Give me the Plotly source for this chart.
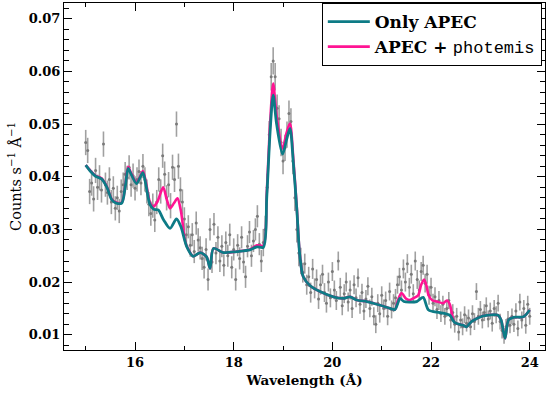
import numpy as np
import plotly.graph_objects as go

# ---- observed spectrum (bin centres 15.00 ... 24.00 A, 0.04 A bins) ----
WAVE_START = 15.00
WAVE_STEP = 0.04
FLUX = [
    0.0465, 0.0450, 0.0372, 0.0388, 0.0358, 0.0412, 0.0380, 0.0398, 0.0375, 0.0462,
    0.0385, 0.0370, 0.0395, 0.0352, 0.0378, 0.0340, 0.0360, 0.0335, 0.0372, 0.0385,
    0.0405, 0.0398, 0.0418, 0.0385, 0.0402, 0.0378, 0.0395, 0.0410, 0.0388, 0.0420,
    0.0395, 0.0372, 0.0348, 0.0330, 0.0345, 0.0318, 0.0352, 0.0395, 0.0372, 0.0440,
    0.0405, 0.0360, 0.0385, 0.0345, 0.0418, 0.0395, 0.0500, 0.0420, 0.0375, 0.0352,
    0.0320, 0.0290, 0.0305, 0.0270, 0.0290, 0.0258, 0.0312, 0.0280, 0.0265, 0.0245,
    0.0228, 0.0262, 0.0205, 0.0300, 0.0238, 0.0310, 0.0255, 0.0285, 0.0240, 0.0268,
    0.0232, 0.0275, 0.0250, 0.0290, 0.0228, 0.0262, 0.0205, 0.0270, 0.0245, 0.0285,
    0.0238, 0.0210, 0.0268, 0.0295, 0.0250, 0.0278, 0.0300, 0.0325, 0.0272, 0.0240,
    0.0275, 0.0300, 0.0380, 0.0480, 0.0590, 0.0620, 0.0590, 0.0530, 0.0510, 0.0465,
    0.0430, 0.0455, 0.0480, 0.0520, 0.0505, 0.0430, 0.0360, 0.0300, 0.0255, 0.0240,
    0.0218, 0.0235, 0.0195, 0.0210, 0.0180, 0.0225, 0.0188, 0.0205, 0.0168, 0.0195,
    0.0215, 0.0180, 0.0160, 0.0200, 0.0170, 0.0220, 0.0185, 0.0165, 0.0240, 0.0190,
    0.0155, 0.0178, 0.0200, 0.0162, 0.0185, 0.0150, 0.0195, 0.0170, 0.0208, 0.0158,
    0.0180, 0.0145, 0.0168, 0.0192, 0.0150, 0.0172, 0.0135, 0.0120, 0.0160, 0.0140,
    0.0175, 0.0150, 0.0165, 0.0135, 0.0182, 0.0148, 0.0160, 0.0170, 0.0195, 0.0210,
    0.0185, 0.0225, 0.0200, 0.0235, 0.0190, 0.0215, 0.0178, 0.0240, 0.0205, 0.0185,
    0.0220, 0.0232, 0.0198, 0.0215, 0.0175, 0.0190, 0.0160, 0.0172, 0.0148, 0.0165,
    0.0140, 0.0158, 0.0135, 0.0150, 0.0165, 0.0128, 0.0142, 0.0120, 0.0135, 0.0105,
    0.0128, 0.0115, 0.0138, 0.0122, 0.0132, 0.0115, 0.0140, 0.0125, 0.0182, 0.0135,
    0.0148, 0.0128, 0.0142, 0.0155, 0.0130, 0.0145, 0.0122, 0.0150, 0.0138, 0.0160,
    0.0125, 0.0108, 0.0098, 0.0115, 0.0130, 0.0118, 0.0135, 0.0120, 0.0145, 0.0112,
    0.0162, 0.0128, 0.0150, 0.0118, 0.0158, 0.0135,
]
# error half-length per 0.4 A group of ten bins
ERR_GROUPS = [0.0024, 0.0023, 0.0023, 0.0023, 0.0024, 0.0022, 0.0021, 0.0021,
              0.0021, 0.0026, 0.0025, 0.0019, 0.0018, 0.0018, 0.0017, 0.0017,
              0.0018, 0.0018, 0.0016, 0.0016, 0.0016, 0.0015, 0.0016]

# ---- model: Only APEC ----
APEC_X = [15.00, 15.10, 15.20, 15.32, 15.43, 15.53, 15.62, 15.73, 15.80, 15.86,
          15.92, 16.03, 16.10, 16.16, 16.22, 16.30, 16.38, 16.47, 16.58, 16.71,
          16.84, 16.93, 17.05, 17.18, 17.32, 17.45, 17.52, 17.59, 17.79, 18.06,
          18.33, 18.47, 18.60, 18.67, 18.74, 18.80, 18.87, 18.99, 19.07, 19.14,
          19.21, 19.28, 19.34, 19.41, 19.55, 19.75, 20.02, 20.22, 20.36, 20.49,
          20.70, 20.97, 21.17, 21.27, 21.32, 21.37, 21.45, 21.57, 21.71, 21.84,
          21.95, 22.18, 22.38, 22.48, 22.65, 22.72, 22.82, 22.93, 23.06, 23.36,
          23.42, 23.50, 23.57, 23.67, 23.87, 24.00]
APEC_Y = [0.0422, 0.0410, 0.0401, 0.0396, 0.0380, 0.0356, 0.0350, 0.0350, 0.0380, 0.0416,
          0.0405, 0.0387, 0.0398, 0.0408, 0.0385, 0.0348, 0.0338, 0.0337, 0.0318, 0.0302,
          0.0320, 0.0305, 0.0267, 0.0249, 0.0256, 0.0248, 0.0226, 0.0264, 0.0256, 0.0258,
          0.0261, 0.0267, 0.0266, 0.0362, 0.0489, 0.0555, 0.0500, 0.0443, 0.0470, 0.0492,
          0.0425, 0.0337, 0.0250, 0.0210, 0.0193, 0.0182, 0.0172, 0.0169, 0.0172, 0.0166,
          0.0163, 0.0156, 0.0150, 0.0148, 0.0158, 0.0169, 0.0163, 0.0162, 0.0163, 0.0171,
          0.0147, 0.0142, 0.0137, 0.0123, 0.0118, 0.0115, 0.0125, 0.0131, 0.0136, 0.0137,
          0.0128, 0.0093, 0.0128, 0.0133, 0.0134, 0.0147]

# ---- model: APEC + photemis ----
PHOT_X = [15.00, 15.10, 15.20, 15.32, 15.43, 15.53, 15.62, 15.73, 15.80, 15.86,
          15.92, 16.03, 16.10, 16.16, 16.22, 16.30, 16.37, 16.45, 16.57, 16.64,
          16.71, 16.79, 16.86, 16.93, 17.01, 17.05, 17.18, 17.32, 17.45, 17.52,
          17.59, 17.79, 18.06, 18.33, 18.47, 18.60, 18.67, 18.74, 18.80, 18.87,
          18.99, 19.07, 19.14, 19.21, 19.28, 19.34, 19.41, 19.55, 19.75, 20.02,
          20.22, 20.36, 20.49, 20.70, 20.97, 21.17, 21.27, 21.33, 21.40, 21.50,
          21.57, 21.66, 21.74, 21.80, 21.86, 21.91, 21.95, 22.03, 22.12, 22.25,
          22.32, 22.38, 22.42, 22.48, 22.65, 22.72, 22.82, 22.93, 23.06, 23.36,
          23.42, 23.50, 23.57, 23.67, 23.87, 24.00]
PHOT_Y = [0.0422, 0.0411, 0.0402, 0.0397, 0.0381, 0.0357, 0.0351, 0.0351, 0.0382, 0.0419,
          0.0407, 0.0389, 0.0400, 0.0411, 0.0390, 0.0352, 0.0343, 0.0352, 0.0380, 0.0358,
          0.0340, 0.0350, 0.0359, 0.0335, 0.0280, 0.0268, 0.0249, 0.0256, 0.0248, 0.0226,
          0.0264, 0.0256, 0.0258, 0.0262, 0.0270, 0.0269, 0.0370, 0.0505, 0.0577, 0.0515,
          0.0454, 0.0483, 0.0501, 0.0432, 0.0340, 0.0252, 0.0210, 0.0193, 0.0182, 0.0172,
          0.0169, 0.0172, 0.0166, 0.0163, 0.0156, 0.0150, 0.0148, 0.0166, 0.0179, 0.0168,
          0.0166, 0.0170, 0.0175, 0.0195, 0.0205, 0.0192, 0.0175, 0.0165, 0.0163, 0.0160,
          0.0165, 0.0158, 0.0141, 0.0123, 0.0118, 0.0115, 0.0125, 0.0131, 0.0136, 0.0137,
          0.0128, 0.0093, 0.0128, 0.0133, 0.0134, 0.0147]

X_TICKS = [16, 18, 20, 22, 24]
Y_TICKS = [0.01, 0.02, 0.03, 0.04, 0.05, 0.06, 0.07]

TEAL = "#0d7b86"
PINK = "#ff1493"

wave = np.round(WAVE_START + WAVE_STEP * np.arange(len(FLUX)), 2)
err = np.repeat(ERR_GROUPS, 10)[:len(FLUX)]

fig = go.Figure()
fig.add_trace(go.Scatter(
    x=wave, y=FLUX, mode="markers",
    marker=dict(color="#7a7a7a", size=3),
    error_y=dict(type="data", array=err, visible=True, color="#a0a0a0",
                 thickness=1.6, width=0),
    showlegend=False, hoverinfo="skip"))
fig.add_trace(go.Scatter(
    x=PHOT_X, y=PHOT_Y, mode="lines", line=dict(color=PINK, width=2.6, shape="spline", smoothing=0.8),
    name='<b>APEC +</b> <span style="font-family:Liberation Mono;font-weight:normal">photemis</span>',
    legendrank=2))
fig.add_trace(go.Scatter(
    x=APEC_X, y=APEC_Y, mode="lines", line=dict(color=TEAL, width=2.8, shape="spline", smoothing=0.8),
    name="<b>Only APEC</b>", legendrank=1))

serif = "DejaVu Serif"
axis_common = dict(
    showline=True, linecolor="black", linewidth=1, mirror="allticks",
    ticks="inside", ticklen=8, tickwidth=1, tickcolor="black",
    showgrid=False, zeroline=False,
    tickfont=dict(family=serif, size=13, color="black", weight="bold"),
)
fig.update_xaxes(
    range=[14.56, 24.31], tickvals=X_TICKS,
    minor=dict(ticks="inside", dtick=1, tick0=15, ticklen=4, tickcolor="black", showgrid=False),
    title=dict(text="<b>Wavelength (Å)</b>", font=dict(family=serif, size=13.5, color="black"), standoff=6),
    **axis_common)
fig.update_yaxes(
    range=[0.0071, 0.0730], tickvals=Y_TICKS, tickformat=".2f",
    minor=dict(ticks="inside", dtick=0.002, tick0=0, ticklen=5, tickcolor="black", showgrid=False),
    title=dict(text="Counts s<sup>−1</sup> Å<sup>−1</sup>", font=dict(family=serif, size=14.5, color="black"), standoff=3),
    **axis_common)

fig.update_layout(
    width=549, height=394,
    margin=dict(l=64, r=4, t=3, b=44),
    paper_bgcolor="white", plot_bgcolor="white",
    legend=dict(x=0.536, y=1.0, xanchor="left", yanchor="top",
                bgcolor="white", bordercolor="black", borderwidth=1,
                font=dict(family=serif, size=17, color="black"),
                tracegroupgap=0, itemwidth=42),
    showlegend=True,
)

fig.write_html("out.html")
